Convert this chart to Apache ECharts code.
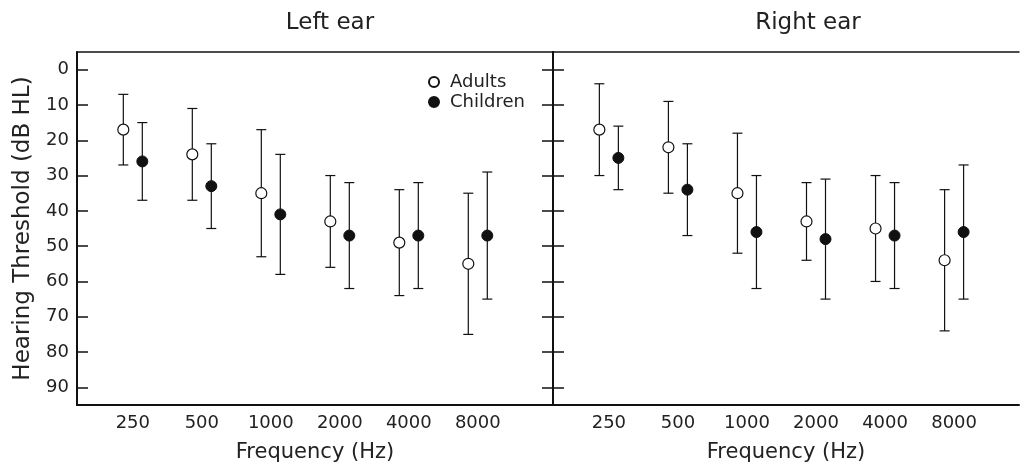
<!DOCTYPE html>
<html style="height: 100%">
<head>
<meta charset="utf-8">
<script src="https://cdn.jsdelivr.net/npm/echarts@6/dist/echarts.min.js"></script>
</head>
<body style="height: 100%; margin: 0; background: #fff">
<div id="main" style="width: 1020px; height: 468px"></div>
<script>
// frequency bands (octave index 0..5 on the x axis)
var freqs = ['250', '500', '1000', '2000', '4000', '8000'];
var yTicks = [0, 10, 20, 30, 40, 50, 60, 70, 80, 90];

// left ear: mean threshold and error bar ends (dB HL)
var leftAdultMean = [17, 24, 35, 43, 49, 55];
var leftAdultTop = [7, 11, 17, 30, 34, 35];
var leftAdultBot = [27, 37, 53, 56, 64, 75];
var leftChildMean = [26, 33, 41, 47, 47, 47];
var leftChildTop = [15, 21, 24, 32, 32, 29];
var leftChildBot = [37, 45, 58, 62, 62, 65];

// right ear
var rightAdultMean = [17, 22, 35, 43, 45, 54];
var rightAdultTop = [4, 9, 18, 32, 30, 34];
var rightAdultBot = [30, 35, 52, 54, 60, 74];
var rightChildMean = [25, 34, 46, 48, 47, 46];
var rightChildTop = [16, 21, 30, 31, 32, 27];
var rightChildBot = [34, 47, 62, 65, 62, 65];

var font = 'DejaVu Sans';
var ink = '#111';

function pts(mean) {
    return mean.map(function (v, i) { return [i, v]; });
}
function bars(top, bot) {
    return top.map(function (v, i) { return [i, v, bot[i]]; });
}
// vertical error bar with caps, shifted sideways by dx pixels
function errBar(dx) {
    return function (params, api) {
        var a = api.coord([api.value(0), api.value(1)]);
        var b = api.coord([api.value(0), api.value(2)]);
        var x = a[0] + dx;
        var st = { stroke: ink, lineWidth: 1.2 };
        return {
            type: 'group',
            children: [
                { type: 'line', shape: { x1: x, y1: a[1], x2: x, y2: b[1] }, style: st },
                { type: 'line', shape: { x1: x - 5, y1: a[1], x2: x + 5, y2: a[1] }, style: st },
                { type: 'line', shape: { x1: x - 5, y1: b[1], x2: x + 5, y2: b[1] }, style: st }
            ]
        };
    };
}

var labelStyle = { color: '#222', fontFamily: font, fontSize: 18 };

function bottomAxis(grid, max) {
    return {
        type: 'value', gridIndex: grid, position: 'bottom',
        min: -0.809, max: max,
        name: 'Frequency (Hz)', nameLocation: 'middle', nameGap: 37,
        nameTextStyle: { color: '#222', fontFamily: font, fontSize: 21 },
        axisLine: { show: true, onZero: false, lineStyle: { color: ink, width: 2 } },
        axisTick: { show: false },
        splitLine: { show: false },
        axisLabel: Object.assign({
            margin: 9,
            customValues: [0, 1, 2, 3, 4, 5],
            formatter: function (v) { return freqs[Math.round(v)]; }
        }, labelStyle)
    };
}
function topAxis(grid, max) {
    return {
        type: 'value', gridIndex: grid, position: 'top',
        min: -0.809, max: max,
        axisLine: { show: true, onZero: false, lineStyle: { color: ink, width: 1.5 } },
        axisTick: { show: false }, axisLabel: { show: false }, splitLine: { show: false }
    };
}
function yAxis(grid, pos, labels) {
    var ax = {
        type: 'value', gridIndex: grid, position: pos, inverse: true,
        min: -5, max: 95,
        axisLine: { show: true, onZero: false, lineStyle: { color: ink, width: 2 } },
        axisTick: { show: true, inside: true, length: 11, customValues: yTicks, lineStyle: { color: ink, width: 1.5 } },
        axisLabel: Object.assign({ show: labels, margin: 8, customValues: yTicks }, labelStyle),
        splitLine: { show: false }
    };
    if (labels) {
        ax.name = 'Hearing Threshold (dB HL)';
        ax.nameLocation = 'middle';
        ax.nameGap = 42;
        ax.nameTextStyle = { color: '#222', fontFamily: font, fontSize: 23 };
    }
    return ax;
}

var openSym = { color: '#fff', borderColor: ink, borderWidth: 1.2, opacity: 1 };
var fillSym = { color: ink, borderColor: ink, borderWidth: 1, opacity: 1 };

function scatter(name, xi, yi, data, style, dx) {
    return {
        name: name, type: 'scatter', xAxisIndex: xi, yAxisIndex: yi,
        data: data, symbol: 'circle', symbolSize: 11, symbolOffset: [dx, 0],
        itemStyle: style, z: 5, silent: true
    };
}
function errors(xi, yi, data, dx) {
    return {
        type: 'custom', xAxisIndex: xi, yAxisIndex: yi, data: data,
        renderItem: errBar(dx), z: 2, silent: true, clip: false
    };
}

var chart = echarts.init(document.getElementById('main'), null, { renderer: 'canvas' });
var option = {
    backgroundColor: '#fff',
    animation: false,
    title: [
        { text: 'Left ear', left: 330, top: 12, textAlign: 'center', padding: 0,
          textStyle: { color: '#222', fontFamily: font, fontSize: 23, fontWeight: 'normal' } },
        { text: 'Right ear', left: 808, top: 12, textAlign: 'center', padding: 0,
          textStyle: { color: '#222', fontFamily: font, fontSize: 23, fontWeight: 'normal' } }
    ],
    legend: {
        data: ['Adults', 'Children'],
        orient: 'vertical', left: 428, top: 73, padding: 0,
        itemWidth: 10, itemHeight: 10, itemGap: 2,
        selectedMode: false,
        textStyle: { color: '#222', fontFamily: font, fontSize: 18, padding: [0, 0, 0, 6] }
    },
    grid: [
        { left: 77, right: 467, top: 52, bottom: 60 },
        { left: 553, right: 1, top: 52, bottom: 60 }
    ],
    xAxis: [bottomAxis(0, 6.09), topAxis(0, 6.09), bottomAxis(1, 5.94), topAxis(1, 5.94)],
    yAxis: [yAxis(0, 'left', true), yAxis(0, 'right', false), yAxis(1, 'left', false)],
    series: [
        errors(0, 0, bars(leftAdultTop, leftAdultBot), -9.5),
        errors(0, 0, bars(leftChildTop, leftChildBot), 9.5),
        errors(2, 2, bars(rightAdultTop, rightAdultBot), -9.5),
        errors(2, 2, bars(rightChildTop, rightChildBot), 9.5),
        scatter('Adults', 0, 0, pts(leftAdultMean), openSym, -9.5),
        scatter('Children', 0, 0, pts(leftChildMean), fillSym, 9.5),
        scatter('Adults', 2, 2, pts(rightAdultMean), openSym, -9.5),
        scatter('Children', 2, 2, pts(rightChildMean), fillSym, 9.5)
    ]
};
chart.setOption(option);
</script>
</body>
</html>
